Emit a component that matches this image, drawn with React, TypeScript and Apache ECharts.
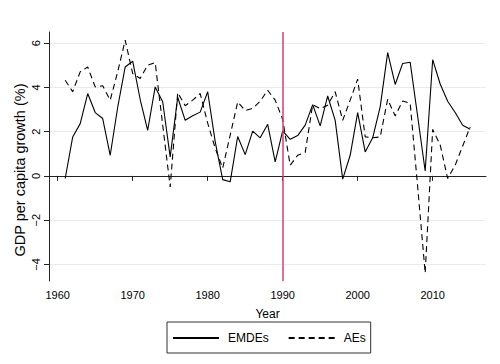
import React, { useEffect, useRef } from "react";
import * as echarts from "echarts";

const years = [
  1961, 1962, 1963, 1964, 1965, 1966, 1967, 1968, 1969, 1970,
  1971, 1972, 1973, 1974, 1975, 1976, 1977, 1978, 1979, 1980,
  1981, 1982, 1983, 1984, 1985, 1986, 1987, 1988, 1989, 1990,
  1991, 1992, 1993, 1994, 1995, 1996, 1997, 1998, 1999, 2000,
  2001, 2002, 2003, 2004, 2005, 2006, 2007, 2008, 2009, 2010,
  2011, 2012, 2013, 2014, 2015,
];

const emdes = [
  -0.12, 1.76, 2.36, 3.72, 2.86, 2.59, 0.93, 3.1, 4.92, 5.18,
  3.45, 2.06, 4.02, 3.35, 0.86, 3.55, 2.51, 2.72, 2.88, 3.8,
  1.55, -0.17, -0.27, 1.78, 0.96, 2.02, 1.72, 2.33, 0.63, 2.03,
  1.65, 1.82, 2.29, 3.22, 2.26, 3.61, 2.51, -0.15, 0.93, 2.86,
  1.08, 1.72, 3.12, 5.57, 4.13, 5.08, 5.13, 2.68, 0.22, 5.25,
  4.15, 3.37, 2.86, 2.29, 2.11,
];

const aes = [
  4.32, 3.8, 4.7, 4.92, 4.02, 4.07, 3.42, 4.7, 6.13, 4.62,
  4.4, 5.0, 5.12, 2.3, -0.5, 3.76, 3.17, 3.42, 3.72, 2.38,
  1.25, 0.35, 1.84, 3.34, 2.95, 3.05, 3.37, 3.87, 3.42, 2.55,
  0.48, 0.93, 1.06, 3.22, 3.04, 3.19, 3.8, 2.51, 3.42, 4.37,
  1.76, 1.72, 1.76, 3.46, 2.71, 3.38, 3.28, -0.5, -4.39, 2.1,
  1.4, -0.12, 0.48, 1.35, 2.21,
];

const xTicks = [1960, 1970, 1980, 1990, 2000, 2010];
const yTicks = [-4, -2, 0, 2, 4, 6];
const markerYear = 1990;

const FONT = "'Liberation Sans', Arial, Helvetica, sans-serif";

export default function App() {
  const ref = useRef<HTMLDivElement>(null);

  useEffect(() => {
    if (!ref.current) return;
    const chart = echarts.init(ref.current, undefined, { renderer: "svg" });
    const fmt = (v: number) => (v < 0 ? "\u2212" + Math.abs(v) : String(v));
    chart.setOption({
      animation: false,
      backgroundColor: "#ffffff",
      textStyle: { fontFamily: FONT },
      grid: { left: 49, right: 14, top: 32, bottom: 83, containLabel: false },
      xAxis: {
        type: "value",
        min: 1958.84,
        max: 2017.11,
        name: "Year",
        nameLocation: "middle",
        nameGap: 27,
        nameTextStyle: { fontFamily: FONT, fontSize: 12, color: "#000" },
        axisLine: { show: true, lineStyle: { color: "#222", width: 1 } },
        axisTick: { show: true, length: 5, customValues: xTicks, lineStyle: { color: "#222" } },
        axisLabel: { customValues: xTicks, fontFamily: FONT, fontSize: 11, color: "#000", margin: 8, formatter: (v: number) => String(v) },
        splitLine: { show: false },
      },
      yAxis: {
        type: "value",
        min: -4.75,
        max: 6.5,
        axisLine: { show: true, lineStyle: { color: "#222", width: 1 } },
        axisTick: { show: true, length: 5, customValues: yTicks, lineStyle: { color: "#222" } },
        axisLabel: { customValues: yTicks, rotate: 90, fontFamily: FONT, fontSize: 11, color: "#000", margin: 8, formatter: fmt },
        splitLine: { show: true, lineStyle: { color: "#eaeaea", width: 1 } },
      },
      legend: {
        left: 167,
        top: 322,
        orient: "horizontal",
        padding: [10, 5, 9, 5],
        itemGap: 19,
        itemWidth: 46,
        itemHeight: 12,
        borderColor: "#333",
        borderWidth: 1,
        backgroundColor: "#fff",
        itemStyle: { color: "rgba(0,0,0,0)", borderColor: "rgba(0,0,0,0)", borderWidth: 0, opacity: 0 },
        textStyle: { fontFamily: FONT, fontSize: 12, color: "#000", padding: [0, 0, 0, 4] },
        data: ["EMDEs", "AEs"],
      },
      graphic: [
        {
          type: "text",
          x: 20,
          y: 170,
          rotation: Math.PI / 2,
          style: {
            text: "GDP per capita growth (%)",
            fontFamily: FONT,
            fontSize: 14.5,
            fill: "#000",
            textAlign: "center",
            textVerticalAlign: "middle",
          },
        },
      ],
      series: [
        {
          name: "EMDEs",
          type: "line",
          data: years.map((y, i) => [y, emdes[i]]),
          symbol: "none",
          lineStyle: { color: "#000", width: 1.1, type: "solid" },
          itemStyle: { color: "#000" },
          z: 3,
          markLine: {
            silent: true,
            symbol: "none",
            label: { show: false },
            lineStyle: { color: "#d0416f", width: 1.5, type: "solid" },
            data: [{ xAxis: markerYear }],
          },
        },
        {
          name: "AEs",
          type: "line",
          data: years.map((y, i) => [y, aes[i]]),
          symbol: "none",
          lineStyle: { color: "#000", width: 1.1, type: [6, 4] },
          itemStyle: { color: "#000" },
          z: 3,
        },
      ],
    });
    return () => chart.dispose();
  }, []);

  return <div ref={ref} style={{ width: 500, height: 364, position: "absolute", left: 0, top: 0 }} />;
}
